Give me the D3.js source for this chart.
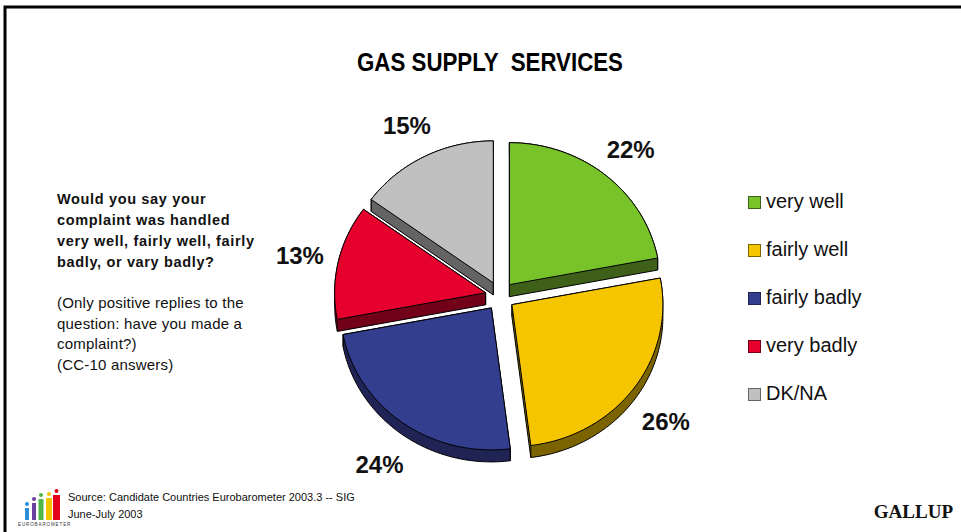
<!DOCTYPE html>
<html><head><meta charset="utf-8">
<script src="https://cdn.jsdelivr.net/npm/d3@7"></script>
<style>
body{margin:0;background:#fff;}
svg{display:block;font-family:"Liberation Sans",Arial,sans-serif;}
</style>
</head><body>
<svg id="c" width="961" height="532"></svg>
<script>
// ---- data ----
const categories = ["very well", "fairly well", "fairly badly", "very badly", "DK/NA"];
const values = [22, 26, 24, 13, 15];
const sliceColors = ["#78C22A", "#F5C600", "#343E8F", "#E6002D", "#C0C0C0"];
const sideColors = ["#3E6019", "#7B6300", "#1F2455", "#730019", "#646464"];
const titleText = "GAS SUPPLY  SERVICES";
const questionLines = ["Would you say your", "complaint was handled", "very well, fairly well, fairly", "badly, or vary badly?"];
const noteLines = ["(Only positive replies to the", "question: have you made a", "complaint?)", "(CC-10 answers)"];
const sourceLines = ["Source: Candidate Countries Eurobarometer 2003.3 -- SIG", "June-July 2003"];
const logoColors = ["#2A8FD8", "#6B3FA0", "#4DB848", "#F5C400", "#E2001A"];

const svg = d3.select("#c");

// frame
svg.append("rect").attr("x", 5).attr("y", 7).attr("width", 1100).attr("height", 700)
  .attr("fill", "none").attr("stroke", "#000").attr("stroke-width", 3);

// title
svg.append("text").attr("x", 490).attr("y", 71).attr("text-anchor", "middle")
  .attr("font-size", 25).attr("font-weight", "bold").style("white-space", "pre")
  .attr("textLength", 266).attr("lengthAdjust", "spacingAndGlyphs")
  .text(titleText);

// question text
const q = svg.append("g");
questionLines.forEach((t, i) => {
  q.append("text").attr("x", 57).attr("y", 204 + i * 21).attr("font-size", 14.5)
    .attr("font-weight", "bold").attr("letter-spacing", 0.65).attr("fill", "#111").text(t);
});
noteLines.forEach((t, i) => {
  q.append("text").attr("x", 57).attr("y", 308 + i * 20.7).attr("font-size", 15)
    .attr("letter-spacing", 0.2).attr("fill", "#111").text(t);
});

// ---- pie ----
const cx = 500, cy = 296, rx = 151, ry = 142, explode = 14.7, depth = 12;
const color = d3.scaleOrdinal(categories, sliceColors);
const side = d3.scaleOrdinal(categories, sideColors);
const arcs = d3.pie().sort(null).value(d => d.v)(categories.map((c, i) => ({c, v: values[i]})));
const line = d3.line();
const N = 80;
arcs.forEach(a => {
  a.mid = (a.startAngle + a.endAngle) / 2;
  a.ax = cx + explode * Math.sin(a.mid);
  a.ay = cy - explode * Math.cos(a.mid);
  const pts = [[a.ax, a.ay]];
  for (let k = 0; k <= N; k++) {
    const t = a.startAngle + (a.endAngle - a.startAngle) * k / N;
    pts.push([a.ax + rx * Math.sin(t), a.ay - ry * Math.cos(t)]);
  }
  a.top = pts;
  a.hull = d3.polygonHull(pts.concat(pts.map(p => [p[0], p[1] + depth])));
  a.corners = [pts[0], pts[1], pts[pts.length - 1]];
});
const order = arcs.slice().sort((a, b) => (-Math.cos(a.mid)) - (-Math.cos(b.mid)));
const pie = svg.append("g");
order.forEach(a => {
  const g = pie.append("g");
  g.append("path").attr("d", line(a.hull) + "Z").attr("fill", side(a.data.c))
    .attr("stroke", "#000").attr("stroke-width", 1).attr("stroke-linejoin", "round");
  a.corners.forEach(p => {
    g.append("line").attr("x1", p[0]).attr("y1", p[1]).attr("x2", p[0]).attr("y2", p[1] + depth)
      .attr("stroke", "#000").attr("stroke-width", 0.8);
  });
  g.append("path").attr("d", line(a.top) + "Z").attr("fill", color(a.data.c))
    .attr("stroke", "#000").attr("stroke-width", 1).attr("stroke-linejoin", "round");
});

// percentage labels
const lrx = 205, lry = 192;
arcs.forEach(a => {
  const x = cx + lrx * Math.sin(a.mid);
  let y = cy - lry * Math.cos(a.mid) + 1;
  if (Math.cos(a.mid) < 0) y += depth;
  svg.append("text").attr("x", x).attr("y", y + 8.5).attr("text-anchor", "middle")
    .attr("font-size", 24).attr("font-weight", "bold").attr("fill", "#111")
    .text(a.data.v + "%");
});

// legend
const ly = d3.scalePoint().domain(categories).range([208, 400]);
const leg = svg.append("g");
categories.forEach(c => {
  leg.append("rect").attr("x", 748.5).attr("y", ly(c) - 11.5).attr("width", 12).attr("height", 12)
    .attr("fill", color(c)).attr("stroke", side(c)).attr("stroke-width", 1);
  leg.append("text").attr("x", 766).attr("y", ly(c)).attr("font-size", 20).attr("fill", "#111").text(c);
});

// source
sourceLines.forEach((t, i) => {
  svg.append("text").attr("x", 68).attr("y", 501 + i * 17).attr("font-size", 11).attr("fill", "#111").text(t);
});

// GALLUP
svg.append("text").attr("x", 953).attr("y", 518).attr("text-anchor", "end")
  .attr("font-family", "'Liberation Serif','Times New Roman',serif").attr("font-weight", "bold")
  .attr("font-size", 19).attr("fill", "#111").text("GALLUP");

// logo
const logo = svg.append("g");
const bars = [[25, 508, 4], [32, 503, 4], [38.5, 499, 5], [46, 498, 6], [53, 495, 7]];
bars.forEach((b, i) => {
  logo.append("rect").attr("x", b[0]).attr("y", b[1]).attr("width", b[2]).attr("height", 520 - b[1]).attr("fill", logoColors[i]);
  logo.append("circle").attr("cx", b[0] + b[2] / 2).attr("cy", b[1] - 4).attr("r", 2).attr("fill", logoColors[i]);
});
logo.append("text").attr("x", 18).attr("y", 526).attr("font-size", 4.5).attr("letter-spacing", 0.9)
  .attr("fill", "#333").text("EUROBAROMETER");
</script>
</body></html>
